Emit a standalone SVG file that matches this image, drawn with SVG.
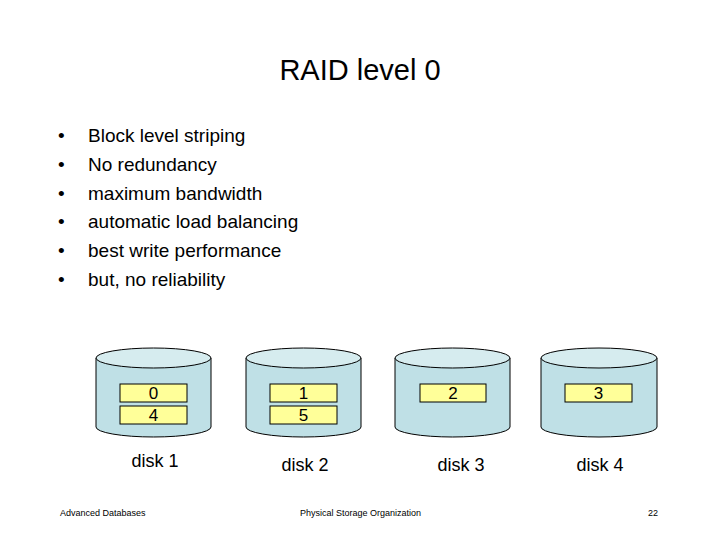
<svg xmlns="http://www.w3.org/2000/svg" width="720" height="540" viewBox="0 0 720 540">
<style>
text{font-family:"Liberation Sans",Arial,sans-serif;fill:#000}
.cyl{fill:#bfe0e6;stroke:#000;stroke-width:1}
.top{fill:#d6ecef;stroke:#000;stroke-width:1}
.blk{fill:#ffff99;stroke:#000;stroke-width:1}
.n{font-size:17px;text-anchor:middle}
.lbl{font-size:18px;text-anchor:middle}
.b{font-size:19px}
.f{font-size:9px}
</style>
<rect width="720" height="540" fill="#fff"/>
<text x="360" y="80" font-size="29" text-anchor="middle">RAID level 0</text>
<g class="b">
<text x="58" y="142">•</text><text x="88" y="142">Block level striping</text>
<text x="58" y="171">•</text><text x="88" y="171">No redundancy</text>
<text x="58" y="200">•</text><text x="88" y="200">maximum bandwidth</text>
<text x="58" y="228">•</text><text x="88" y="228">automatic load balancing</text>
<text x="58" y="257">•</text><text x="88" y="257">best write performance</text>
<text x="58" y="286">•</text><text x="88" y="286">but, no reliability</text>
</g>
<g id="disk1">
<path class="cyl" d="M96,358 V427 A57.5,10 0 0 0 211,427 V358 Z"/>
<ellipse class="top" cx="153.5" cy="358" rx="57.5" ry="10"/>
<rect class="blk" x="120" y="384" width="67" height="18"/><text class="n" x="153.5" y="399">0</text>
<rect class="blk" x="120" y="406" width="67" height="18"/><text class="n" x="153.5" y="421">4</text>
<text class="lbl" x="155" y="467">disk 1</text>
</g>
<g id="disk2">
<path class="cyl" d="M246,358 V427 A57.5,10 0 0 0 361,427 V358 Z"/>
<ellipse class="top" cx="303.5" cy="358" rx="57.5" ry="10"/>
<rect class="blk" x="270" y="384" width="67" height="18"/><text class="n" x="303.5" y="399">1</text>
<rect class="blk" x="270" y="406" width="67" height="18"/><text class="n" x="303.5" y="421">5</text>
<text class="lbl" x="305" y="471">disk 2</text>
</g>
<g id="disk3">
<path class="cyl" d="M395,358 V427 A57.5,10 0 0 0 510,427 V358 Z"/>
<ellipse class="top" cx="452.5" cy="358" rx="57.5" ry="10"/>
<rect class="blk" x="420" y="384" width="66" height="18"/><text class="n" x="453" y="399">2</text>
<text class="lbl" x="461" y="471">disk 3</text>
</g>
<g id="disk4">
<path class="cyl" d="M541,358 V427 A58,10 0 0 0 657,427 V358 Z"/>
<ellipse class="top" cx="599" cy="358" rx="58" ry="10"/>
<rect class="blk" x="565" y="384" width="67" height="18"/><text class="n" x="598.5" y="399">3</text>
<text class="lbl" x="600" y="471">disk 4</text>
</g>
<g id="connectors"/>
<text class="f" x="60" y="516">Advanced Databases</text>
<text class="f" x="300" y="516">Physical Storage Organization</text>
<text class="f" x="648" y="516">22</text>
</svg>
